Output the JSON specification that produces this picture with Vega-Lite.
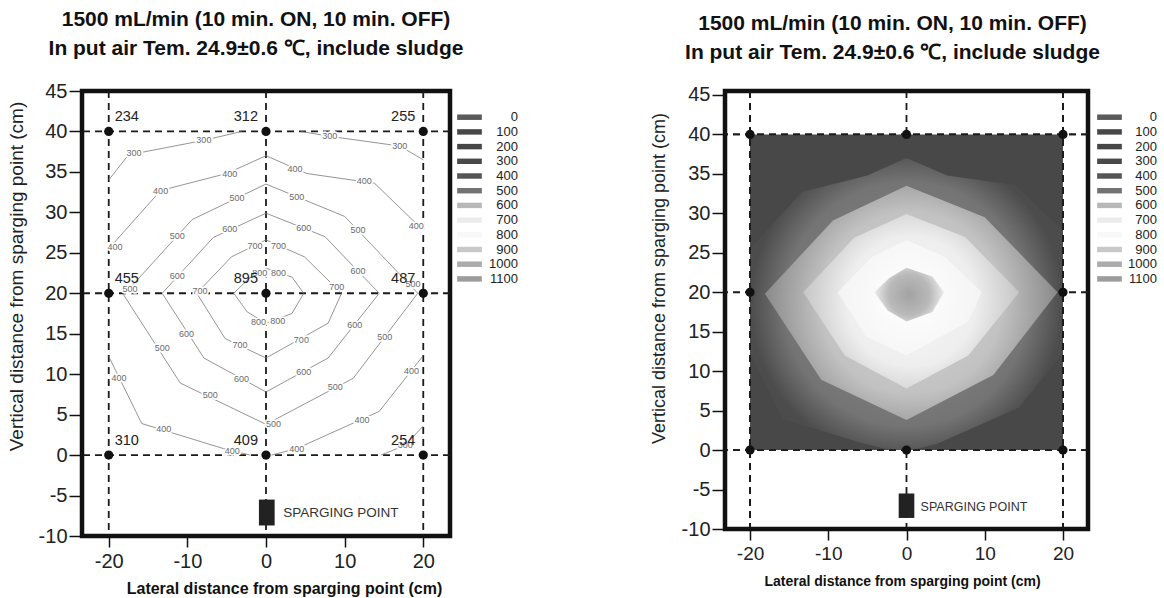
{
"$schema":"https://vega.github.io/schema/vega-lite/v6.json",
"padding":{"left":4,"top":6,"right":0,"bottom":0},
"background":"white",
"config":{"view":{"stroke":"#111","strokeWidth":4.5},"font":"Liberation Sans",
 "axis":{"domain":false,"grid":false,"tickWidth":1.5,"tickColor":"#111","labelFont":"Liberation Sans","labelColor":"#222","labelFlush":false,"labelOverlap":false,"titleFont":"Liberation Sans","titleColor":"#111"},
 "axisX":{"tickSize":11,"labelPadding":4,"titleFontWeight":"bold","titleBaseline":"alphabetic"},
 "axisY":{"tickSize":13,"labelPadding":2,"titleFontWeight":"normal","titleBaseline":"middle","titleColor":"#222"}},
"spacing":126,
"resolve":{"scale":{"color":"independent"},"legend":{"color":"independent"}},
"datasets":{
"pts":[{"x":-20,"y":40,"v":"234"},{"x":0,"y":40,"v":"312"},{"x":20,"y":40,"v":"255"},{"x":-20,"y":20,"v":"455"},{"x":0,"y":20,"v":"895"},{"x":20,"y":20,"v":"487"},{"x":-20,"y":0,"v":"310"},{"x":0,"y":0,"v":"409"},{"x":20,"y":0,"v":"254"}],
"vl":[{"p":-20},{"p":0},{"p":20}],
"hl":[{"p":0},{"p":20},{"p":40}],
"con":[
{"k":"300a","i":0,"x":-20,"y":34},{"k":"300a","i":1,"x":-17.5,"y":37.1},{"k":"300a","i":2,"x":-7.9,"y":38.9},{"k":"300a","i":3,"x":-3.1,"y":40},
{"k":"300b","i":0,"x":4.4,"y":40},{"k":"300b","i":1,"x":8.1,"y":39.4},{"k":"300b","i":2,"x":17,"y":38.2},{"k":"300b","i":3,"x":20,"y":36.5},
{"k":"300c","i":0,"x":14.6,"y":0},{"k":"300c","i":1,"x":17.7,"y":1.2},{"k":"300c","i":2,"x":20,"y":3.6},
{"k":"400a","i":0,"x":-20,"y":25.5},{"k":"400a","i":1,"x":-13.4,"y":32.7},{"k":"400a","i":2,"x":-5,"y":34.8},{"k":"400a","i":3,"x":0,"y":37},{"k":"400a","i":4,"x":5.2,"y":34.8},{"k":"400a","i":5,"x":13.8,"y":33.6},{"k":"400a","i":6,"x":18.7,"y":29},{"k":"400a","i":7,"x":20,"y":28},
{"k":"400b","i":0,"x":-20,"y":12.2},{"k":"400b","i":1,"x":-15.8,"y":3.9},{"k":"400b","i":2,"x":-5.4,"y":0.8},{"k":"400b","i":3,"x":-2,"y":0},
{"k":"400c","i":0,"x":0.7,"y":0},{"k":"400c","i":1,"x":3.9,"y":0.8},{"k":"400c","i":2,"x":14.4,"y":5.4},{"k":"400c","i":3,"x":20,"y":12.3},
{"k":"500","i":0,"x":-18.1,"y":19.8},{"k":"500","i":1,"x":-9.4,"y":29.1},{"k":"500","i":2,"x":0,"y":33.5},{"k":"500","i":3,"x":10,"y":29.5},{"k":"500","i":4,"x":19.3,"y":20},{"k":"500","i":5,"x":11.1,"y":9.5},{"k":"500","i":6,"x":0,"y":3.8},{"k":"500","i":7,"x":-10.9,"y":8.9},{"k":"500","i":8,"x":-18.1,"y":19.8},
{"k":"600","i":0,"x":-13.2,"y":20},{"k":"600","i":1,"x":-6.7,"y":26.9},{"k":"600","i":2,"x":0,"y":29.9},{"k":"600","i":3,"x":7.5,"y":27},{"k":"600","i":4,"x":14.4,"y":20},{"k":"600","i":5,"x":7.9,"y":12},{"k":"600","i":6,"x":0,"y":7.8},{"k":"600","i":7,"x":-7.9,"y":12},{"k":"600","i":8,"x":-13.2,"y":20},
{"k":"700","i":0,"x":-8.8,"y":20},{"k":"700","i":1,"x":-4.4,"y":24.5},{"k":"700","i":2,"x":0,"y":26.6},{"k":"700","i":3,"x":4.9,"y":24.5},{"k":"700","i":4,"x":9.6,"y":20},{"k":"700","i":5,"x":7.9,"y":16.3},{"k":"700","i":6,"x":0,"y":12},{"k":"700","i":7,"x":-5.2,"y":14.4},{"k":"700","i":8,"x":-8.8,"y":20},
{"k":"800","i":0,"x":-4.1,"y":20},{"k":"800","i":1,"x":-2.2,"y":21.8},{"k":"800","i":2,"x":0,"y":23.1},{"k":"800","i":3,"x":3.3,"y":22},{"k":"800","i":4,"x":4.8,"y":20},{"k":"800","i":5,"x":3.3,"y":17.5},{"k":"800","i":6,"x":0,"y":16.3},{"k":"800","i":7,"x":-2.4,"y":17.7},{"k":"800","i":8,"x":-4.1,"y":20}
],
"band":[
{"i":0,"x":-20,"y":12.2},{"i":1,"x":-15.8,"y":3.9},{"i":2,"x":-5.4,"y":0.8},{"i":3,"x":-2,"y":0},{"i":4,"x":0.7,"y":0},{"i":5,"x":3.9,"y":0.8},{"i":6,"x":14.4,"y":5.4},{"i":7,"x":20,"y":12.3},{"i":8,"x":20,"y":28},{"i":9,"x":18.7,"y":29},{"i":10,"x":13.8,"y":33.6},{"i":11,"x":5.2,"y":34.8},{"i":12,"x":0,"y":37},{"i":13,"x":-5,"y":34.8},{"i":14,"x":-13.4,"y":32.7},{"i":15,"x":-20,"y":25.5}
],
"clab":[
{"t":"300","x":-16.8,"y":37.3},{"t":"300","x":-7.9,"y":38.9},{"t":"300","x":8.1,"y":39.4},{"t":"300","x":17,"y":38.2},{"t":"300","x":17.7,"y":1.2},
{"t":"400","x":-19.2,"y":25.7},{"t":"400","x":-13.4,"y":32.7},{"t":"400","x":-4.6,"y":34.8},{"t":"400","x":3.7,"y":35.4},{"t":"400","x":12.5,"y":33.9},{"t":"400","x":19.1,"y":28.3},{"t":"400","x":-18.7,"y":9.5},{"t":"400","x":-13,"y":3.2},{"t":"400","x":-4.3,"y":0.5},{"t":"400","x":3.9,"y":0.7},{"t":"400","x":12.2,"y":4.3},{"t":"400","x":18.5,"y":10.4},
{"t":"500","x":-17.3,"y":20.5},{"t":"500","x":-11.3,"y":27.1},{"t":"500","x":-3.7,"y":31.8},{"t":"500","x":3.9,"y":31.9},{"t":"500","x":11.7,"y":27.8},{"t":"500","x":18.7,"y":21.2},{"t":"500","x":-13.2,"y":13.2},{"t":"500","x":-7.1,"y":7.4},{"t":"500","x":0.95,"y":3.9},{"t":"500","x":8.8,"y":8.4},{"t":"500","x":15.1,"y":14.6},
{"t":"600","x":-11.3,"y":22.1},{"t":"600","x":-4.6,"y":27.9},{"t":"600","x":4.8,"y":28.1},{"t":"600","x":11.7,"y":22.7},{"t":"600","x":-10.1,"y":15},{"t":"600","x":-3.1,"y":9.4},{"t":"600","x":11.3,"y":16.1},{"t":"600","x":4.8,"y":10.3},
{"t":"700","x":-8.4,"y":20.3},{"t":"700","x":-1.4,"y":25.8},{"t":"700","x":1.6,"y":25.9},{"t":"700","x":9,"y":20.8},{"t":"700","x":-3.3,"y":13.6},{"t":"700","x":4.5,"y":14.2},
{"t":"800","x":-0.8,"y":22.5},{"t":"800","x":1.6,"y":22.5},{"t":"800","x":-0.95,"y":16.5},{"t":"800","x":1.5,"y":16.6}
],
"leg":[{"lv":"0"},{"lv":"100"},{"lv":"200"},{"lv":"300"},{"lv":"400"},{"lv":"500"},{"lv":"600"},{"lv":"700"},{"lv":"800"},{"lv":"900"},{"lv":"1000"},{"lv":"1100"}]
},
"hconcat":[
{
"width":368,"height":445,
"title":{"text":["1500 mL/min (10 min. ON, 10 min. OFF)","In put air Tem. 24.9±0.6 ℃, include sludge"],"fontSize":21,"font":"Liberation Sans","fontWeight":"bold","color":"#111","lineHeight":29,"offset":22,"dx":-10,"anchor":"middle"},
"layer":[
{"data":{"name":"vl"},"mark":{"type":"rule","strokeDash":[7,5],"strokeWidth":1.8,"color":"#1a1a1a"},
 "encoding":{"x":{"field":"p","type":"quantitative","scale":{"domain":[-23.4,23.4],"nice":false,"zero":false},"axis":{"values":[-20,-10,0,10,20],"labelExpr":"datum.value < 0 ? '-' + (-datum.value) : '' + datum.value","title":"Lateral distance from sparging point (cm)","titleFontSize":16,"titleX":202,"titleY":57,"labelFontSize":20}}}},
{"data":{"name":"hl"},"mark":{"type":"rule","strokeDash":[7,5],"strokeWidth":1.8,"color":"#1a1a1a"},
 "encoding":{"y":{"field":"p","type":"quantitative","scale":{"domain":[-10,45],"nice":false,"zero":false},"axis":{"values":[-10,-5,0,5,10,15,20,25,30,35,40,45],"labelExpr":"datum.value < 0 ? '-' + (-datum.value) : '' + datum.value","title":"Vertical distance from sparging point (cm)","titleFontSize":19,"titleX":-66,"titleY":185,"labelFontSize":20}}}},
{"data":{"name":"con"},"mark":{"type":"line","stroke":"#7a7a7a","strokeWidth":0.8},
 "encoding":{"x":{"field":"x","type":"quantitative","scale":{"domain":[-23.4,23.4],"nice":false,"zero":false},"axis":{"values":[-20,-10,0,10,20],"labelExpr":"datum.value < 0 ? '-' + (-datum.value) : '' + datum.value","title":"Lateral distance from sparging point (cm)","titleFontSize":16,"titleX":202,"titleY":57,"labelFontSize":20}},"y":{"field":"y","type":"quantitative","scale":{"domain":[-10,45],"nice":false,"zero":false},"axis":{"values":[-10,-5,0,5,10,15,20,25,30,35,40,45],"labelExpr":"datum.value < 0 ? '-' + (-datum.value) : '' + datum.value","title":"Vertical distance from sparging point (cm)","titleFontSize":19,"titleX":-66,"titleY":185,"labelFontSize":20}},"detail":{"field":"k"},"order":{"field":"i","type":"quantitative"}}},
{"data":{"name":"clab"},"mark":{"type":"text","fontSize":9,"fill":"white","stroke":"white","strokeWidth":3.5,"strokeJoin":"round","align":"center","baseline":"middle"},
 "encoding":{"x":{"field":"x","type":"quantitative","scale":{"domain":[-23.4,23.4],"nice":false,"zero":false},"axis":{"values":[-20,-10,0,10,20],"labelExpr":"datum.value < 0 ? '-' + (-datum.value) : '' + datum.value","title":"Lateral distance from sparging point (cm)","titleFontSize":16,"titleX":202,"titleY":57,"labelFontSize":20}},"y":{"field":"y","type":"quantitative","scale":{"domain":[-10,45],"nice":false,"zero":false},"axis":{"values":[-10,-5,0,5,10,15,20,25,30,35,40,45],"labelExpr":"datum.value < 0 ? '-' + (-datum.value) : '' + datum.value","title":"Vertical distance from sparging point (cm)","titleFontSize":19,"titleX":-66,"titleY":185,"labelFontSize":20}},"text":{"field":"t"}}},
{"data":{"name":"clab"},"mark":{"type":"text","fontSize":9,"color":"#6a6a6a","align":"center","baseline":"middle"},
 "encoding":{"x":{"field":"x","type":"quantitative","scale":{"domain":[-23.4,23.4],"nice":false,"zero":false},"axis":{"values":[-20,-10,0,10,20],"labelExpr":"datum.value < 0 ? '-' + (-datum.value) : '' + datum.value","title":"Lateral distance from sparging point (cm)","titleFontSize":16,"titleX":202,"titleY":57,"labelFontSize":20}},"y":{"field":"y","type":"quantitative","scale":{"domain":[-10,45],"nice":false,"zero":false},"axis":{"values":[-10,-5,0,5,10,15,20,25,30,35,40,45],"labelExpr":"datum.value < 0 ? '-' + (-datum.value) : '' + datum.value","title":"Vertical distance from sparging point (cm)","titleFontSize":19,"titleX":-66,"titleY":185,"labelFontSize":20}},"text":{"field":"t"}}},
{"data":{"name":"pts"},"mark":{"type":"circle","size":85,"color":"#111","opacity":1},
 "encoding":{"x":{"field":"x","type":"quantitative","scale":{"domain":[-23.4,23.4],"nice":false,"zero":false},"axis":{"values":[-20,-10,0,10,20],"labelExpr":"datum.value < 0 ? '-' + (-datum.value) : '' + datum.value","title":"Lateral distance from sparging point (cm)","titleFontSize":16,"titleX":202,"titleY":57,"labelFontSize":20}},"y":{"field":"y","type":"quantitative","scale":{"domain":[-10,45],"nice":false,"zero":false},"axis":{"values":[-10,-5,0,5,10,15,20,25,30,35,40,45],"labelExpr":"datum.value < 0 ? '-' + (-datum.value) : '' + datum.value","title":"Vertical distance from sparging point (cm)","titleFontSize":19,"titleX":-66,"titleY":185,"labelFontSize":20}}}},
{"data":{"name":"pts"},"transform":[{"filter":"datum.x == -20"}],"mark":{"type":"text","fontSize":14.5,"color":"#222","align":"left","baseline":"alphabetic","dx":6,"dy":-10},
 "encoding":{"x":{"field":"x","type":"quantitative","scale":{"domain":[-23.4,23.4],"nice":false,"zero":false},"axis":{"values":[-20,-10,0,10,20],"labelExpr":"datum.value < 0 ? '-' + (-datum.value) : '' + datum.value","title":"Lateral distance from sparging point (cm)","titleFontSize":16,"titleX":202,"titleY":57,"labelFontSize":20}},"y":{"field":"y","type":"quantitative","scale":{"domain":[-10,45],"nice":false,"zero":false},"axis":{"values":[-10,-5,0,5,10,15,20,25,30,35,40,45],"labelExpr":"datum.value < 0 ? '-' + (-datum.value) : '' + datum.value","title":"Vertical distance from sparging point (cm)","titleFontSize":19,"titleX":-66,"titleY":185,"labelFontSize":20}},"text":{"field":"v"}}},
{"data":{"name":"pts"},"transform":[{"filter":"datum.x != -20"}],"mark":{"type":"text","fontSize":14.5,"color":"#222","align":"right","baseline":"alphabetic","dx":-8,"dy":-10},
 "encoding":{"x":{"field":"x","type":"quantitative","scale":{"domain":[-23.4,23.4],"nice":false,"zero":false},"axis":{"values":[-20,-10,0,10,20],"labelExpr":"datum.value < 0 ? '-' + (-datum.value) : '' + datum.value","title":"Lateral distance from sparging point (cm)","titleFontSize":16,"titleX":202,"titleY":57,"labelFontSize":20}},"y":{"field":"y","type":"quantitative","scale":{"domain":[-10,45],"nice":false,"zero":false},"axis":{"values":[-10,-5,0,5,10,15,20,25,30,35,40,45],"labelExpr":"datum.value < 0 ? '-' + (-datum.value) : '' + datum.value","title":"Vertical distance from sparging point (cm)","titleFontSize":19,"titleX":-66,"titleY":185,"labelFontSize":20}},"text":{"field":"v"}}},
{"data":{"values":[{}]},"mark":{"type":"rect","color":"#222"},
 "encoding":{"x":{"datum":-0.9,"type":"quantitative","scale":{"domain":[-23.4,23.4],"nice":false,"zero":false},"axis":{"values":[-20,-10,0,10,20],"labelExpr":"datum.value < 0 ? '-' + (-datum.value) : '' + datum.value","title":"Lateral distance from sparging point (cm)","titleFontSize":16,"titleX":202,"titleY":57,"labelFontSize":20}},"x2":{"datum":1.1},"y":{"datum":-8.7,"type":"quantitative","scale":{"domain":[-10,45],"nice":false,"zero":false},"axis":{"values":[-10,-5,0,5,10,15,20,25,30,35,40,45],"labelExpr":"datum.value < 0 ? '-' + (-datum.value) : '' + datum.value","title":"Vertical distance from sparging point (cm)","titleFontSize":19,"titleX":-66,"titleY":185,"labelFontSize":20}},"y2":{"datum":-5.5}}},
{"data":{"values":[{}]},"mark":{"type":"text","fontSize":13.5,"color":"#333","align":"left","baseline":"middle"},
 "encoding":{"x":{"datum":2.2,"type":"quantitative","scale":{"domain":[-23.4,23.4],"nice":false,"zero":false},"axis":{"values":[-20,-10,0,10,20],"labelExpr":"datum.value < 0 ? '-' + (-datum.value) : '' + datum.value","title":"Lateral distance from sparging point (cm)","titleFontSize":16,"titleX":202,"titleY":57,"labelFontSize":20}},"y":{"datum":-7.1,"type":"quantitative","scale":{"domain":[-10,45],"nice":false,"zero":false},"axis":{"values":[-10,-5,0,5,10,15,20,25,30,35,40,45],"labelExpr":"datum.value < 0 ? '-' + (-datum.value) : '' + datum.value","title":"Vertical distance from sparging point (cm)","titleFontSize":19,"titleX":-66,"titleY":185,"labelFontSize":20}},"text":{"value":"SPARGING POINT"}}},
{"data":{"name":"leg"},"mark":{"type":"square","opacity":0,"filled":true},
 "encoding":{"x":{"datum":0,"type":"quantitative","scale":{"domain":[-23.4,23.4],"nice":false,"zero":false},"axis":{"values":[-20,-10,0,10,20],"labelExpr":"datum.value < 0 ? '-' + (-datum.value) : '' + datum.value","title":"Lateral distance from sparging point (cm)","titleFontSize":16,"titleX":202,"titleY":57,"labelFontSize":20}},"y":{"datum":0,"type":"quantitative","scale":{"domain":[-10,45],"nice":false,"zero":false},"axis":{"values":[-10,-5,0,5,10,15,20,25,30,35,40,45],"labelExpr":"datum.value < 0 ? '-' + (-datum.value) : '' + datum.value","title":"Vertical distance from sparging point (cm)","titleFontSize":19,"titleX":-66,"titleY":185,"labelFontSize":20}},
  "color":{"field":"lv","type":"nominal","scale":{"domain":["0","100","200","300","400","500","600","700","800","900","1000","1100"],"range":["#5a5a5a","#474747","#464646","#494949","#555555","#737373","#b8b8b8","#ececec","#f8f8f8","#c8c8c8","#ababab","#9c9c9c"]},
   "legend":{"orient":"none","direction":"vertical","legendX":381,"legendY":19.7,"title":null,"symbolType":"M-1.9,-0.42H1.9V0.42H-1.9Z","symbolSize":169,"symbolStrokeWidth":0,"symbolOpacity":1,"labelFont":"Liberation Sans","labelFontSize":13,"labelColor":"#222","labelAlign":"right","labelOffset":42,"rowPadding":0.7,"padding":0}}}}
]
},
{
"width":363,"height":438,
"title":{"text":["1500 mL/min (10 min. ON, 10 min. OFF)","In put air Tem. 24.9±0.6 ℃, include sludge"],"fontSize":21,"font":"Liberation Sans","fontWeight":"bold","color":"#111","lineHeight":29,"offset":22,"dx":-14,"anchor":"middle"},
"layer":[
{"data":{"name":"vl"},"mark":{"type":"rule","strokeDash":[7,5],"strokeWidth":1.8,"color":"#1a1a1a"},
 "encoding":{"x":{"field":"p","type":"quantitative","scale":{"domain":[-23.2,23.2],"nice":false,"zero":false},"axis":{"values":[-20,-10,0,10,20],"labelExpr":"datum.value < 0 ? '-' + (-datum.value) : '' + datum.value","title":"Lateral distance from sparging point (cm)","titleFontSize":14,"titleX":177,"titleY":56,"labelFontSize":19}}}},
{"data":{"name":"hl"},"mark":{"type":"rule","strokeDash":[7,5],"strokeWidth":1.8,"color":"#1a1a1a"},
 "encoding":{"y":{"field":"p","type":"quantitative","scale":{"domain":[-10,45.5],"nice":false,"zero":false},"axis":{"values":[-10,-5,0,5,10,15,20,25,30,35,40,45],"labelExpr":"datum.value < 0 ? '-' + (-datum.value) : '' + datum.value","title":"Vertical distance from sparging point (cm)","titleFontSize":18,"titleX":-66,"titleY":187,"labelFontSize":20}}}},
{"data":{"values":[{}]},"mark":{"type":"rect","color":"#484848"},
 "encoding":{"x":{"datum":-20,"type":"quantitative","scale":{"domain":[-23.2,23.2],"nice":false,"zero":false},"axis":{"values":[-20,-10,0,10,20],"labelExpr":"datum.value < 0 ? '-' + (-datum.value) : '' + datum.value","title":"Lateral distance from sparging point (cm)","titleFontSize":14,"titleX":177,"titleY":56,"labelFontSize":19}},"x2":{"datum":20},"y":{"datum":0,"type":"quantitative","scale":{"domain":[-10,45.5],"nice":false,"zero":false},"axis":{"values":[-10,-5,0,5,10,15,20,25,30,35,40,45],"labelExpr":"datum.value < 0 ? '-' + (-datum.value) : '' + datum.value","title":"Vertical distance from sparging point (cm)","titleFontSize":18,"titleX":-66,"titleY":187,"labelFontSize":20}},"y2":{"datum":40}}},
{"data":{"name":"band"},"mark":{"type":"line","interpolate":"linear-closed","strokeWidth":0,"fill":{"gradient":"radial","x1":0.5,"y1":0.5,"x2":0.5,"y2":0.5,"r1":0,"r2":0.5,"stops":[{"offset":0,"color":"#8a8a8a"},{"offset":0.78,"color":"#747474"},{"offset":1,"color":"#4c4c4c"}]}},
 "encoding":{"x":{"field":"x","type":"quantitative","scale":{"domain":[-23.2,23.2],"nice":false,"zero":false},"axis":{"values":[-20,-10,0,10,20],"labelExpr":"datum.value < 0 ? '-' + (-datum.value) : '' + datum.value","title":"Lateral distance from sparging point (cm)","titleFontSize":14,"titleX":177,"titleY":56,"labelFontSize":19}},"y":{"field":"y","type":"quantitative","scale":{"domain":[-10,45.5],"nice":false,"zero":false},"axis":{"values":[-10,-5,0,5,10,15,20,25,30,35,40,45],"labelExpr":"datum.value < 0 ? '-' + (-datum.value) : '' + datum.value","title":"Vertical distance from sparging point (cm)","titleFontSize":18,"titleX":-66,"titleY":187,"labelFontSize":20}},"order":{"field":"i","type":"quantitative"}}},
{"data":{"name":"con"},"transform":[{"filter":"datum.k == '500'"}],"mark":{"type":"line","interpolate":"linear-closed","strokeWidth":0,"fill":{"gradient":"radial","x1":0.5,"y1":0.5,"x2":0.5,"y2":0.5,"r1":0,"r2":0.5,"stops":[{"offset":0,"color":"#d0d0d0"},{"offset":0.62,"color":"#c2c2c2"},{"offset":1,"color":"#8a8a8a"}]}},
 "encoding":{"x":{"field":"x","type":"quantitative","scale":{"domain":[-23.2,23.2],"nice":false,"zero":false},"axis":{"values":[-20,-10,0,10,20],"labelExpr":"datum.value < 0 ? '-' + (-datum.value) : '' + datum.value","title":"Lateral distance from sparging point (cm)","titleFontSize":14,"titleX":177,"titleY":56,"labelFontSize":19}},"y":{"field":"y","type":"quantitative","scale":{"domain":[-10,45.5],"nice":false,"zero":false},"axis":{"values":[-10,-5,0,5,10,15,20,25,30,35,40,45],"labelExpr":"datum.value < 0 ? '-' + (-datum.value) : '' + datum.value","title":"Vertical distance from sparging point (cm)","titleFontSize":18,"titleX":-66,"titleY":187,"labelFontSize":20}},"order":{"field":"i","type":"quantitative"}}},
{"data":{"name":"con"},"transform":[{"filter":"datum.k == '600'"}],"mark":{"type":"line","interpolate":"linear-closed","strokeWidth":0,"fill":{"gradient":"radial","x1":0.5,"y1":0.5,"x2":0.5,"y2":0.5,"r1":0,"r2":0.5,"stops":[{"offset":0,"color":"#f6f6f6"},{"offset":0.6,"color":"#eeeeee"},{"offset":1,"color":"#c6c6c6"}]}},
 "encoding":{"x":{"field":"x","type":"quantitative","scale":{"domain":[-23.2,23.2],"nice":false,"zero":false},"axis":{"values":[-20,-10,0,10,20],"labelExpr":"datum.value < 0 ? '-' + (-datum.value) : '' + datum.value","title":"Lateral distance from sparging point (cm)","titleFontSize":14,"titleX":177,"titleY":56,"labelFontSize":19}},"y":{"field":"y","type":"quantitative","scale":{"domain":[-10,45.5],"nice":false,"zero":false},"axis":{"values":[-10,-5,0,5,10,15,20,25,30,35,40,45],"labelExpr":"datum.value < 0 ? '-' + (-datum.value) : '' + datum.value","title":"Vertical distance from sparging point (cm)","titleFontSize":18,"titleX":-66,"titleY":187,"labelFontSize":20}},"order":{"field":"i","type":"quantitative"}}},
{"data":{"name":"con"},"transform":[{"filter":"datum.k == '700'"}],"mark":{"type":"line","interpolate":"linear-closed","strokeWidth":0,"fill":{"gradient":"radial","x1":0.5,"y1":0.5,"x2":0.5,"y2":0.5,"r1":0,"r2":0.5,"stops":[{"offset":0,"color":"#ffffff"},{"offset":1,"color":"#f4f4f4"}]}},
 "encoding":{"x":{"field":"x","type":"quantitative","scale":{"domain":[-23.2,23.2],"nice":false,"zero":false},"axis":{"values":[-20,-10,0,10,20],"labelExpr":"datum.value < 0 ? '-' + (-datum.value) : '' + datum.value","title":"Lateral distance from sparging point (cm)","titleFontSize":14,"titleX":177,"titleY":56,"labelFontSize":19}},"y":{"field":"y","type":"quantitative","scale":{"domain":[-10,45.5],"nice":false,"zero":false},"axis":{"values":[-10,-5,0,5,10,15,20,25,30,35,40,45],"labelExpr":"datum.value < 0 ? '-' + (-datum.value) : '' + datum.value","title":"Vertical distance from sparging point (cm)","titleFontSize":18,"titleX":-66,"titleY":187,"labelFontSize":20}},"order":{"field":"i","type":"quantitative"}}},
{"data":{"name":"con"},"transform":[{"filter":"datum.k == '800'"}],"mark":{"type":"line","interpolate":"linear-closed","strokeWidth":0,"fill":{"gradient":"radial","x1":0.5,"y1":0.5,"x2":0.5,"y2":0.5,"r1":0,"r2":0.5,"stops":[{"offset":0,"color":"#a2a2a2"},{"offset":0.6,"color":"#bababa"},{"offset":1,"color":"#ececec"}]}},
 "encoding":{"x":{"field":"x","type":"quantitative","scale":{"domain":[-23.2,23.2],"nice":false,"zero":false},"axis":{"values":[-20,-10,0,10,20],"labelExpr":"datum.value < 0 ? '-' + (-datum.value) : '' + datum.value","title":"Lateral distance from sparging point (cm)","titleFontSize":14,"titleX":177,"titleY":56,"labelFontSize":19}},"y":{"field":"y","type":"quantitative","scale":{"domain":[-10,45.5],"nice":false,"zero":false},"axis":{"values":[-10,-5,0,5,10,15,20,25,30,35,40,45],"labelExpr":"datum.value < 0 ? '-' + (-datum.value) : '' + datum.value","title":"Vertical distance from sparging point (cm)","titleFontSize":18,"titleX":-66,"titleY":187,"labelFontSize":20}},"order":{"field":"i","type":"quantitative"}}},
{"data":{"name":"vl"},"transform":[{"filter":"datum.p != 0"}],"mark":{"type":"rule","strokeDash":[7,5],"strokeWidth":1.8,"color":"#1a1a1a"},
 "encoding":{"x":{"field":"p","type":"quantitative","scale":{"domain":[-23.2,23.2],"nice":false,"zero":false},"axis":{"values":[-20,-10,0,10,20],"labelExpr":"datum.value < 0 ? '-' + (-datum.value) : '' + datum.value","title":"Lateral distance from sparging point (cm)","titleFontSize":14,"titleX":177,"titleY":56,"labelFontSize":19}}}},
{"data":{"name":"hl"},"transform":[{"filter":"datum.p != 20"}],"mark":{"type":"rule","strokeDash":[7,5],"strokeWidth":1.8,"color":"#1a1a1a"},
 "encoding":{"y":{"field":"p","type":"quantitative","scale":{"domain":[-10,45.5],"nice":false,"zero":false},"axis":{"values":[-10,-5,0,5,10,15,20,25,30,35,40,45],"labelExpr":"datum.value < 0 ? '-' + (-datum.value) : '' + datum.value","title":"Vertical distance from sparging point (cm)","titleFontSize":18,"titleX":-66,"titleY":187,"labelFontSize":20}}}},
{"data":{"name":"pts"},"transform":[{"filter":"!(datum.x == 0 && datum.y == 20)"}],"mark":{"type":"circle","size":85,"color":"#111","opacity":1},
 "encoding":{"x":{"field":"x","type":"quantitative","scale":{"domain":[-23.2,23.2],"nice":false,"zero":false},"axis":{"values":[-20,-10,0,10,20],"labelExpr":"datum.value < 0 ? '-' + (-datum.value) : '' + datum.value","title":"Lateral distance from sparging point (cm)","titleFontSize":14,"titleX":177,"titleY":56,"labelFontSize":19}},"y":{"field":"y","type":"quantitative","scale":{"domain":[-10,45.5],"nice":false,"zero":false},"axis":{"values":[-10,-5,0,5,10,15,20,25,30,35,40,45],"labelExpr":"datum.value < 0 ? '-' + (-datum.value) : '' + datum.value","title":"Vertical distance from sparging point (cm)","titleFontSize":18,"titleX":-66,"titleY":187,"labelFontSize":20}}}},
{"data":{"values":[{}]},"mark":{"type":"rect","color":"#222"},
 "encoding":{"x":{"datum":-1,"type":"quantitative","scale":{"domain":[-23.2,23.2],"nice":false,"zero":false},"axis":{"values":[-20,-10,0,10,20],"labelExpr":"datum.value < 0 ? '-' + (-datum.value) : '' + datum.value","title":"Lateral distance from sparging point (cm)","titleFontSize":14,"titleX":177,"titleY":56,"labelFontSize":19}},"x2":{"datum":1},"y":{"datum":-8.6,"type":"quantitative","scale":{"domain":[-10,45.5],"nice":false,"zero":false},"axis":{"values":[-10,-5,0,5,10,15,20,25,30,35,40,45],"labelExpr":"datum.value < 0 ? '-' + (-datum.value) : '' + datum.value","title":"Vertical distance from sparging point (cm)","titleFontSize":18,"titleX":-66,"titleY":187,"labelFontSize":20}},"y2":{"datum":-5.5}}},
{"data":{"values":[{}]},"mark":{"type":"text","fontSize":12.5,"color":"#333","align":"left","baseline":"middle"},
 "encoding":{"x":{"datum":1.8,"type":"quantitative","scale":{"domain":[-23.2,23.2],"nice":false,"zero":false},"axis":{"values":[-20,-10,0,10,20],"labelExpr":"datum.value < 0 ? '-' + (-datum.value) : '' + datum.value","title":"Lateral distance from sparging point (cm)","titleFontSize":14,"titleX":177,"titleY":56,"labelFontSize":19}},"y":{"datum":-7.2,"type":"quantitative","scale":{"domain":[-10,45.5],"nice":false,"zero":false},"axis":{"values":[-10,-5,0,5,10,15,20,25,30,35,40,45],"labelExpr":"datum.value < 0 ? '-' + (-datum.value) : '' + datum.value","title":"Vertical distance from sparging point (cm)","titleFontSize":18,"titleX":-66,"titleY":187,"labelFontSize":20}},"text":{"value":"SPARGING POINT"}}},
{"data":{"name":"leg"},"mark":{"type":"square","opacity":0,"filled":true},
 "encoding":{"x":{"datum":0,"type":"quantitative","scale":{"domain":[-23.2,23.2],"nice":false,"zero":false},"axis":{"values":[-20,-10,0,10,20],"labelExpr":"datum.value < 0 ? '-' + (-datum.value) : '' + datum.value","title":"Lateral distance from sparging point (cm)","titleFontSize":14,"titleX":177,"titleY":56,"labelFontSize":19}},"y":{"datum":0,"type":"quantitative","scale":{"domain":[-10,45.5],"nice":false,"zero":false},"axis":{"values":[-10,-5,0,5,10,15,20,25,30,35,40,45],"labelExpr":"datum.value < 0 ? '-' + (-datum.value) : '' + datum.value","title":"Vertical distance from sparging point (cm)","titleFontSize":18,"titleX":-66,"titleY":187,"labelFontSize":20}},
  "color":{"field":"lv","type":"nominal","scale":{"domain":["0","100","200","300","400","500","600","700","800","900","1000","1100"],"range":["#5a5a5a","#474747","#464646","#494949","#555555","#737373","#b8b8b8","#ececec","#f8f8f8","#c8c8c8","#ababab","#9c9c9c"]},
   "legend":{"orient":"none","direction":"vertical","legendX":378,"legendY":19.7,"title":null,"symbolType":"M-1.9,-0.42H1.9V0.42H-1.9Z","symbolSize":169,"symbolStrokeWidth":0,"symbolOpacity":1,"labelFont":"Liberation Sans","labelFontSize":13,"labelColor":"#222","labelAlign":"right","labelOffset":41,"rowPadding":0.7,"padding":0}}}}
]
}
]
}
